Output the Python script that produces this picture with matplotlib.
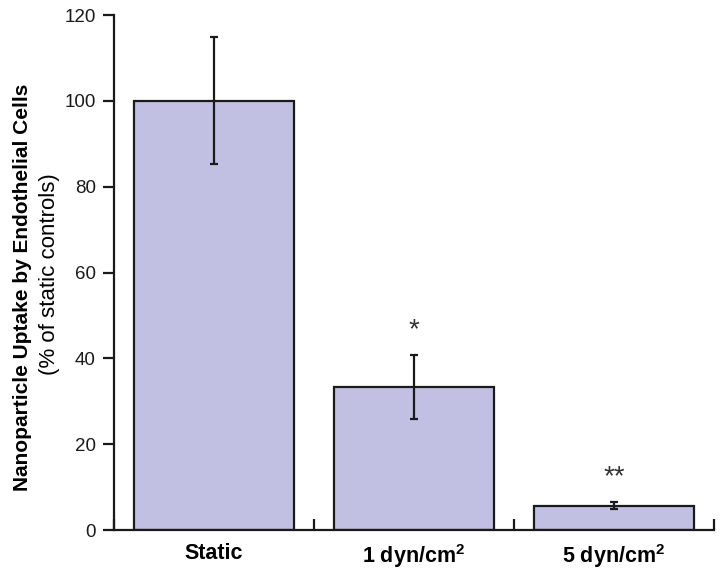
import matplotlib
matplotlib.use("Agg")
import matplotlib.pyplot as plt
import numpy as np

plt.rcParams['font.family'] = ['Liberation Sans', 'DejaVu Sans']
plt.rcParams['mathtext.default'] = 'regular'

# data
categories = ["Static", "1 dyn/cm$^{2}$", "5 dyn/cm$^{2}$"]
uptake = [100.0, 33.3, 5.7]
errors = [14.8, 7.5, 0.8]
stars = ["", "*", "**"]
star_y = [0, 46.5, 12.3]

fig = plt.figure(figsize=(7.24, 5.79), dpi=100)
ax = fig.add_axes([0.1575, 0.0846, 0.8285, 0.8894])

x = np.arange(len(categories))
ax.bar(x, uptake, width=0.8, color="#c2c0e2", edgecolor="#1a1a1a", linewidth=1.6,
       yerr=errors, error_kw=dict(ecolor="#1a1a1a", elinewidth=1.6, capsize=2.7, capthick=1.6))

for xi, s, sy in zip(x, stars, star_y):
    if s:
        ax.text(xi, sy, s, ha="center", va="center", fontsize=20, color="#333333")

ax.set_xlim(-0.5, 2.5)
ax.set_ylim(0, 120)
ax.set_yticks(np.arange(0, 121, 20))
ax.tick_params(axis="y", direction="out", length=8, width=1.6, labelsize=13.5, pad=5,
               colors="#1a1a1a")

# category labels between boundary ticks
ax.set_xticks(np.arange(-0.5, 3, 1))
ax.set_xticklabels([])
ax.tick_params(axis="x", direction="in", length=8, width=1.6, colors="#1a1a1a")
ax.set_xticks(x, minor=True)
ax.set_xticklabels(categories, minor=True, fontsize=15.5, fontweight="bold")
ax.tick_params(axis="x", which="minor", length=0, pad=9)

for side in ["top", "right"]:
    ax.spines[side].set_visible(False)
for side in ["left", "bottom"]:
    ax.spines[side].set_linewidth(1.6)
    ax.spines[side].set_color("#1a1a1a")

fig.text(0.031, 0.503, "Nanoparticle Uptake by Endothelial Cells", rotation=90,
         ha="center", va="center", fontsize=15, fontweight="bold")
fig.text(0.068, 0.527, "(% of static controls)", rotation=90,
         ha="center", va="center", fontsize=16)

fig.savefig("out.png", dpi=100)
